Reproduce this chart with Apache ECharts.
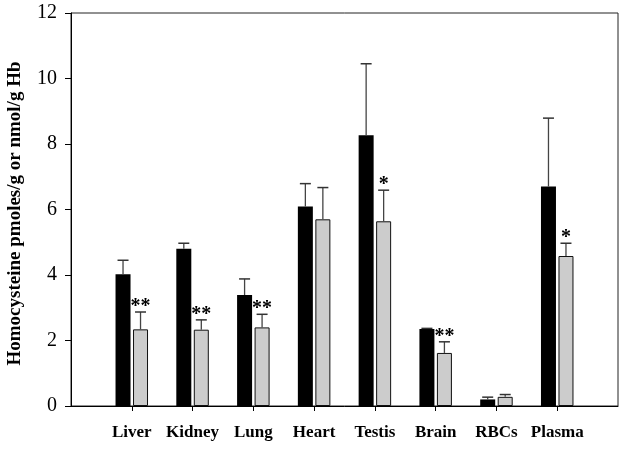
<!DOCTYPE html>
<html><head><meta charset="utf-8">
<script src="https://cdn.jsdelivr.net/npm/echarts@6/dist/echarts.min.js"></script>
<style>html,body{margin:0;padding:0;background:#fff}#c{width:625px;height:449px}</style>
</head><body><div id="c"></div>
<script>
const categories = ['Liver','Kidney','Lung','Heart','Testis','Brain','RBCs','Plasma'];
const blackValues = [4.02, 4.80, 3.39, 6.09, 8.27, 2.35, 0.20, 6.70];
const blackErrors = [0.43, 0.17, 0.49, 0.70, 2.18, 0.02, 0.07, 2.09];
const grayValues  = [2.34, 2.33, 2.40, 5.70, 5.64, 1.62, 0.28, 4.58];
const grayErrors  = [0.53, 0.30, 0.40, 0.97, 0.95, 0.34, 0.07, 0.39];
const graySig     = ['**','**','**','','*','**','','*'];
const yTicks = [0, 2, 4, 6, 8, 10, 12];

const axisCats = [''].concat(categories, ['']);
const pad = arr => [null].concat(arr, [null]);
const FONT = '"Liberation Serif","Times New Roman",serif';
const BAR_W = 15, GAP = 2.5;
const OFF = (BAR_W + GAP) / 2;

function errSeries(values, errors, sig, offset) {
  return {
    type: 'custom',
    z: 5,
    encode: { x: 0, y: 1 },
    data: values.map((v, i) => [i + 1, v, errors[i]]),
    renderItem: function (params, api) {
      const x = api.value(0), v = api.value(1), e = api.value(2);
      const s = sig ? sig[params.dataIndex] : '';
      const b = api.coord([x, v]);
      const t = api.coord([x, v + e]);
      const cx = b[0] + offset;
      const children = [
        { type: 'line', shape: { x1: cx, y1: b[1], x2: cx, y2: t[1] }, style: { stroke: '#444', lineWidth: 1.3 } },
        { type: 'line', shape: { x1: cx - 5.5, y1: t[1], x2: cx + 5.5, y2: t[1] }, style: { stroke: '#333', lineWidth: 1.5 } }
      ];
      if (s) {
        children.push({ type: 'text', style: { x: cx, y: t[1] + 5, text: s, align: 'center', verticalAlign: 'bottom', font: 'bold 20px ' + FONT, fill: '#000' } });
      }
      return { type: 'group', children: children };
    }
  };
}

const chart = echarts.init(document.getElementById('c'), null, { renderer: 'canvas' });
chart.setOption({
  animation: false,
  backgroundColor: '#fff',
  grid: { left: 71, right: 7, top: 13, bottom: 43, show: true, borderColor: '#222', borderWidth: 1,
          containLabel: false, outerBoundsMode: 'none' },
  xAxis: {
    type: 'category',
    data: axisCats,
    boundaryGap: false,
    axisLine: { lineStyle: { color: '#000', width: 1 } },
    axisTick: { length: 5, lineStyle: { color: '#000' }, interval: (i, v) => v !== '' },
    axisLabel: { interval: 0, margin: 18, fontFamily: FONT, fontWeight: 'bold', fontSize: 17, color: '#000' },
    splitLine: { show: false }
  },
  yAxis: {
    type: 'value',
    min: yTicks[0], max: yTicks[yTicks.length - 1], interval: 2,
    name: 'Homocysteine pmoles/g or nmol/g Hb',
    nameLocation: 'middle', nameGap: 46,
    nameTextStyle: { fontFamily: FONT, fontWeight: 'bold', fontSize: 19, color: '#000', padding: [0, 8, 0, 0] },
    axisLine: { show: true, lineStyle: { color: '#000', width: 1 } },
    axisTick: { show: true, length: 6, lineStyle: { color: '#000' } },
    axisLabel: { margin: 14, fontFamily: FONT, fontSize: 20, color: '#000' },
    splitLine: { show: false }
  },
  series: [
    { type: 'bar', data: pad(blackValues), barWidth: BAR_W, barGap: (GAP / BAR_W * 100) + '%',
      itemStyle: { color: '#000', borderColor: '#000', borderWidth: 0 } },
    { type: 'bar', data: pad(grayValues), barWidth: BAR_W,
      itemStyle: { color: '#cccccc', borderColor: '#111', borderWidth: 1 } },
    errSeries(blackValues, blackErrors, null, -OFF),
    errSeries(grayValues, grayErrors, graySig, OFF)
  ]
});
</script></body></html>
